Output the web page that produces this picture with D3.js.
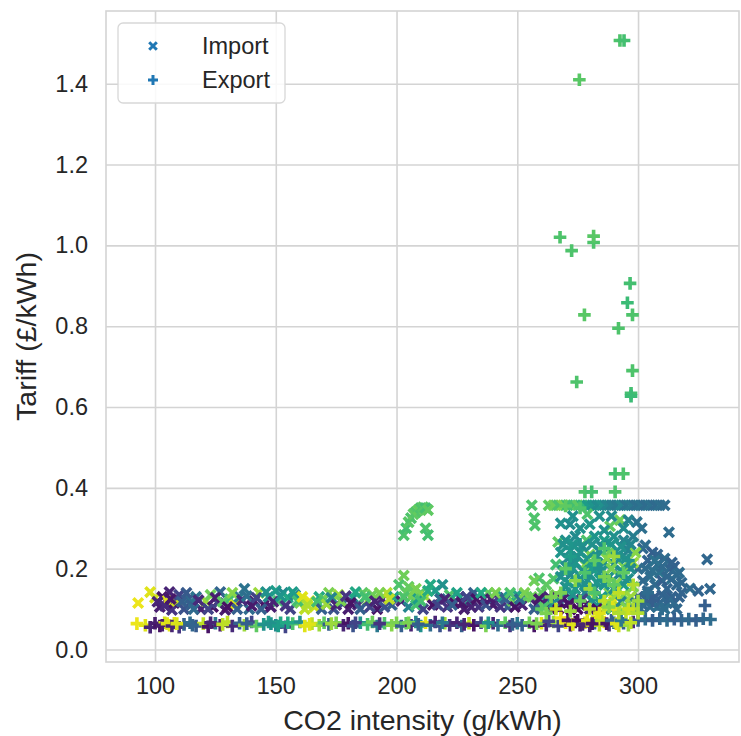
<!DOCTYPE html>
<html>
<head>
<meta charset="utf-8">
<script src="https://cdnjs.cloudflare.com/ajax/libs/d3/7.8.5/d3.min.js"></script>
<style>
  body { margin: 0; background: #fff; }
  text { font-family: "Liberation Sans", Arial, sans-serif; fill: #262626; }
</style>
</head>
<body>
<svg id="chart-area" width="741" height="736"></svg>
<script>
// series names + tick labels
var seriesNames = ['Import', 'Export'];
var xTicks = [100, 150, 200, 250, 300];
var yTicks = [0.0, 0.2, 0.4, 0.6, 0.8, 1.0, 1.2, 1.4];

// [CO2 intensity, tariff, colour value 0..1]
var importPts = [
  [93,0.115,0.97],[98,0.142,0.95],[100,0.128,0.93],[102,0.105,0.08],[103,0.13,0.05],[105,0.12,0.95],[106,0.142,0.1],
  [107,0.098,0.15],[108,0.115,0.04],[109,0.12,0.92],[110,0.135,0.2],[112,0.1,0.25],[114,0.125,0.35],[115,0.11,0.3],
  [117,0.13,0.38],[119,0.1,0.1],[121,0.12,0.85],[123,0.135,0.78],[124,0.105,0.05],[126,0.115,0.2],[127,0.142,0.32],
  [129,0.098,0.08],[131,0.125,0.7],[133,0.11,0.95],[135,0.13,0.4],[137,0.15,0.38],[139,0.1,0.35],[141,0.12,0.1],
  [143,0.14,0.85],[145,0.11,0.05],[147,0.13,0.5],[148,0.105,0.08],[150,0.145,0.55],[151,0.12,0.7],[153,0.14,0.48],
  [155,0.128,0.6],[156,0.1,0.2],[158,0.135,0.45],[160,0.115,0.78],[162,0.1,0.9],[164,0.12,0.96],[166,0.105,0.92],
  [168,0.13,0.6],[170,0.125,0.72],[172,0.14,0.8],[174,0.1,0.25],[176,0.135,0.85],[178,0.115,0.3],[180,0.1,0.08],
  [182,0.128,0.5],[184,0.11,0.15],[186,0.14,0.75],[188,0.12,0.82],[190,0.135,0.78],[192,0.1,0.05],[194,0.125,0.1],
  [196,0.14,0.88],[198,0.11,0.3],[199,0.13,0.6],
  // second pass over the low band
  [101,0.118,0.1],[104,0.108,0.12],[106.5,0.125,0.06],[111,0.118,0.3],[113,0.14,0.28],[116,0.1,0.34],[118,0.122,0.12],
  [122,0.1,0.2],[125,0.128,0.08],[128,0.118,0.75],[130,0.105,0.04],[132,0.14,0.82],[134,0.1,0.3],[136,0.122,0.12],
  [138,0.132,0.36],[140,0.108,0.07],[142,0.128,0.2],[144,0.1,0.3],[146,0.142,0.5],[149,0.118,0.1],[152,0.132,0.52],
  [154,0.108,0.15],[157,0.142,0.55],[159,0.12,0.7],[161,0.13,0.95],[163,0.11,0.88],[167,0.118,0.7],[169,0.1,0.3],
  [171,0.112,0.85],[173,0.128,0.45],[175,0.11,0.1],[177,0.12,0.8],[179,0.132,0.15],[181,0.115,0.05],[183,0.142,0.6],
  [185,0.1,0.3],[187,0.13,0.7],[189,0.105,0.2],[191,0.12,0.1],[193,0.14,0.8],[195,0.105,0.25],[197,0.125,0.9],
  [201,0.16,0.72],[202,0.12,0.1],[203,0.183,0.78],[204,0.14,0.75],[205,0.105,0.45],[206,0.13,0.78],[207,0.145,0.8],
  [208,0.11,0.7],[209,0.125,0.55],[210,0.14,0.75],[211,0.1,0.2],[212,0.13,0.85],[214,0.16,0.6],[215,0.11,0.05],
  [216,0.145,0.55],[218,0.125,0.35],[219,0.16,0.5],[221,0.105,0.15],[222,0.135,0.72],[224,0.115,0.05],[226,0.13,0.12],
  [228,0.1,0.08],[230,0.12,0.55],[232,0.14,0.3],[234,0.105,0.15],[236,0.125,0.1],[238,0.14,0.75],[240,0.11,0.08],
  [242,0.128,0.2],[244,0.13,0.55],[246,0.105,0.3],[248,0.12,0.78],[250,0.135,0.6],[252,0.11,0.1],[254,0.13,0.75],
  [203,0.13,0.72],[205,0.155,0.76],[208,0.15,0.8],[210,0.12,0.7],[213,0.145,0.62],[217,0.11,0.2],[220,0.125,0.1],
  [223,0.11,0.3],[225,0.14,0.58],[227,0.115,0.06],[229,0.13,0.2],[231,0.105,0.1],[233,0.125,0.05],[235,0.14,0.6],
  [237,0.11,0.25],[239,0.125,0.08],[241,0.14,0.8],[243,0.105,0.15],[245,0.125,0.3],[247,0.14,0.72],[249,0.105,0.05],
  [251,0.125,0.35],[253,0.14,0.8],
  // arc near 210
  [203,0.283,0.72],[204,0.3,0.7],[205,0.315,0.74],[206,0.325,0.72],[207,0.335,0.75],[208,0.34,0.73],[209,0.345,0.76],
  [210,0.35,0.72],[211,0.352,0.74],[212,0.35,0.7],[213,0.345,0.75],[212,0.3,0.72],[213,0.283,0.7],
  // flat cap line
  [256,0.357,0.72],[257,0.325,0.72],[263,0.357,0.75],[265,0.357,0.78],[267,0.357,0.72],[269,0.357,0.8],[271,0.357,0.68],
  [273,0.357,0.7],[275,0.357,0.75],[277,0.357,0.66],[279,0.357,0.55],[281,0.357,0.52],[283,0.357,0.48],[285,0.357,0.5],
  [287,0.357,0.45],[289,0.357,0.42],[291,0.357,0.4],[293,0.357,0.45],[295,0.357,0.38],[297,0.357,0.4],[299,0.357,0.36],
  [301,0.357,0.38],[303,0.357,0.35],[305,0.357,0.37],[307,0.357,0.34],[309,0.357,0.36],[311,0.357,0.35],
  // lower band right side
  [256,0.13,0.78],[258,0.11,0.1],[260,0.14,0.75],[262,0.12,0.5],[264,0.1,0.05],[266,0.135,0.8],[268,0.115,0.3],
  [270,0.14,0.55],[272,0.1,0.0],[274,0.125,0.05],[276,0.11,0.08],[278,0.14,0.45],[280,0.1,0.12],[282,0.13,0.85],
  [284,0.115,0.5],[286,0.1,0.9],[288,0.14,0.8],[290,0.12,0.95],[292,0.105,0.88],[294,0.135,0.82],[296,0.115,0.78],
  [298,0.1,0.35],[300,0.13,0.3],[302,0.11,0.33],[304,0.14,0.36],[306,0.12,0.3],[308,0.105,0.4],[310,0.135,0.32],
  [312,0.115,0.35],[314,0.13,0.3],[316,0.1,0.33],[321.5,0.151,0.35],[325,0.145,0.32],[329.8,0.15,0.33],
  [328.6,0.223,0.33],[312.8,0.29,0.35],
  [257,0.1,0.3],[259,0.125,0.06],[261,0.105,0.72],[263,0.13,0.1],[265,0.115,0.48],[267,0.1,0.02],[269,0.125,0.1],
  [271,0.115,0.05],[273,0.135,0.5],[275,0.1,0.03],[277,0.125,0.2],[279,0.112,0.05],[281,0.12,0.5],[283,0.1,0.04],
  [285,0.13,0.55],[287,0.115,0.82],[289,0.1,0.5],[291,0.135,0.85],[293,0.118,0.45],[295,0.105,0.8],[297,0.13,0.85],
  [299,0.115,0.38],[301,0.1,0.35],[303,0.125,0.32],[305,0.105,0.35],[307,0.13,0.3],[309,0.115,0.33],[311,0.1,0.36],
  [313,0.125,0.32],[315,0.115,0.34],[317,0.13,0.31],
  // blue block
  [300,0.2,0.35],[302,0.25,0.33],[303,0.258,0.35],[304,0.22,0.32],[305,0.18,0.36],[306,0.24,0.3],[307,0.16,0.34],
  [308,0.21,0.33],[309,0.19,0.38],[310,0.17,0.3],[311,0.225,0.35],[312,0.15,0.32],[313,0.2,0.34],[314,0.175,0.36],
  [315,0.205,0.3],[316,0.16,0.33],[317,0.19,0.35],[318,0.14,0.32],[301.5,0.3,0.36],[299.5,0.315,0.38],
  [302,0.17,0.34],[304,0.145,0.33],[306,0.195,0.36],[308,0.235,0.32],[310,0.205,0.34],[312,0.18,0.33],[314,0.215,0.31],
  [316,0.185,0.34],[318,0.165,0.33],[303,0.2,0.35],[307,0.22,0.37],
  // teal block
  [268,0.312,0.5],[271.8,0.31,0.48],[278.7,0.27,0.72],[284,0.33,0.5],[288.4,0.305,0.75],[292.5,0.32,0.78],
  [257.3,0.307,0.72],[266.9,0.266,0.75],
  [270,0.27,0.5],[274,0.28,0.48],[282,0.28,0.52],[286,0.27,0.55],[290,0.28,0.5],[294,0.27,0.45],[298,0.28,0.42],
  [268,0.24,0.52],[272,0.245,0.5],[276,0.24,0.55],[280,0.235,0.8],[284,0.245,0.5],[288,0.24,0.78],[292,0.235,0.5],
  [296,0.245,0.45],[299,0.24,0.82],
  [266,0.21,0.7],[270,0.205,0.5],[274,0.215,0.52],[278,0.21,0.8],[282,0.205,0.55],[286,0.215,0.5],[290,0.21,0.48],
  [294,0.205,0.8],[298,0.215,0.85],
  [265,0.175,0.72],[268,0.18,0.5],[272,0.185,0.48],[276,0.175,0.52],[280,0.185,0.5],[284,0.175,0.55],[288,0.18,0.5],
  [292,0.185,0.45],[296,0.175,0.5],
  [262,0.16,0.75],[270,0.155,0.5],[274,0.15,0.55],[278,0.16,0.5],[282,0.15,0.45],[286,0.16,0.52],[290,0.15,0.5],
  [294,0.16,0.55],[298,0.155,0.8],[259,0.176,0.72],[257,0.17,0.78],
  [269,0.26,0.5],[273,0.26,0.52],[277,0.255,0.48],[281,0.26,0.5],[285,0.255,0.47],[289,0.26,0.52],[293,0.255,0.5],
  [297,0.26,0.46],[271,0.225,0.48],[275,0.23,0.5],[279,0.225,0.52],[283,0.23,0.5],[287,0.225,0.82],[291,0.23,0.5],
  [295,0.225,0.5],[269,0.195,0.5],[273,0.2,0.52],[277,0.195,0.5],[281,0.2,0.55],[285,0.195,0.5],[289,0.2,0.8],
  [293,0.195,0.5],[297,0.2,0.48],[271,0.165,0.52],[275,0.165,0.5],[279,0.17,0.5],[283,0.165,0.52],[287,0.17,0.5],
  [291,0.165,0.82],[295,0.17,0.5],[276,0.3,0.5],[280,0.31,0.52],[286,0.295,0.5],[294,0.3,0.48],[273,0.33,0.5],
  [289,0.33,0.48],[279,0.335,0.72],[296,0.32,0.45]
];

var exportPts = [
  // low band
  [92.5,0.064,0.97],[96,0.06,0.95],[98,0.055,0.1],[100,0.065,0.08],[102,0.058,0.05],[104,0.066,0.93],[106,0.06,0.96],
  [108,0.065,0.95],[110,0.055,0.15],[112,0.062,0.3],[114.5,0.066,0.35],[117,0.058,0.28],[120,0.064,0.9],[122,0.056,0.05],
  [125,0.065,0.4],[127,0.06,0.08],[130,0.068,0.9],[132,0.058,0.12],[135,0.065,0.3],[137,0.06,0.85],[140,0.068,0.2],
  [142,0.058,0.75],[145,0.062,0.5],[147,0.068,0.55],[150,0.06,0.48],[152,0.066,0.6],[154,0.056,0.2],[157,0.064,0.72],
  [160,0.068,0.5],[162,0.058,0.95],[165,0.064,0.9],[168,0.06,0.85],[170,0.066,0.75],[172,0.062,0.3],[175,0.066,0.8],
  [178,0.06,0.1],[180,0.065,0.05],[182,0.058,0.25],[185,0.066,0.5],[188,0.062,0.7],[190,0.068,0.78],[192,0.058,0.4],
  [195,0.065,0.72],[198,0.06,0.82],[200,0.066,0.8],[202,0.058,0.3],[204,0.065,0.75],[206,0.06,0.1],[208,0.068,0.45],
  [210,0.058,0.5],[212,0.066,0.95],[214,0.06,0.35],[216,0.068,0.1],[218,0.058,0.25],[220,0.065,0.85],[222,0.06,0.15],
  [225,0.066,0.1],[227,0.058,0.3],[230,0.065,0.9],[232,0.06,0.05],[235,0.066,0.2],[237,0.058,0.8],[240,0.065,0.1],
  [242,0.06,0.35],[245,0.066,0.75],[247,0.058,0.15],[250,0.065,0.4],[252,0.06,0.3],[255,0.066,0.78],[257,0.058,0.05],
  [260,0.065,0.95],[262,0.06,0.1],[265,0.068,0.85],[267,0.058,0.2],[270,0.066,0.97],[272,0.06,0.05],[274,0.068,0.02],
  [276,0.06,0.08],[278,0.066,0.95],[280,0.058,0.1],[282,0.065,0.3],[284,0.06,0.9],[286,0.068,0.98],[288,0.06,0.15],
  [290,0.066,0.35],[292,0.058,0.92],[294,0.065,0.3],[296,0.06,0.85],[298,0.068,0.12],[300,0.072,0.3],[303,0.075,0.35],
  [306,0.072,0.3],[309,0.076,0.33],[312,0.072,0.35],[315,0.075,0.3],[318,0.072,0.32],[321,0.075,0.34],[324,0.072,0.3],
  [327,0.076,0.33],[330,0.074,0.35],
  [283,0.08,0.95],[268,0.078,0.97],[295,0.09,0.9],[298,0.1,0.88],
  [103,0.06,0.08],[105,0.064,0.95],[107,0.058,0.1],[109,0.064,0.94],[115.5,0.06,0.32],[123,0.066,0.1],[128,0.062,0.9],
  [138,0.064,0.3],[148,0.064,0.5],[151,0.058,0.55],[155,0.066,0.6],[164,0.062,0.95],[173,0.064,0.85],[183,0.066,0.2],
  [193,0.064,0.15],[205,0.066,0.8],[209,0.062,0.3],[219,0.066,0.4],[228,0.062,0.1],[238,0.066,0.5],[248,0.062,0.3],
  [258,0.064,0.8],[263,0.07,0.2],[271,0.072,0.05],[273,0.062,0.95],[275,0.072,0.03],[277,0.062,0.1],[279,0.072,0.95],
  [281,0.064,0.05],[285,0.072,0.9],[287,0.064,0.05],[289,0.072,0.3],[291,0.064,0.95],[293,0.072,0.4],[297,0.066,0.9],
  // mid cluster
  [268,0.14,0.8],[270,0.2,0.75],[272,0.23,0.55],[274,0.17,0.82],[276,0.26,0.5],[278,0.19,0.72],[280,0.15,0.85],
  [282,0.22,0.75],[284,0.2,0.5],[286,0.25,0.72],[288,0.17,0.78],[290,0.23,0.85],[292,0.14,0.9],[294,0.19,0.75],
  [296,0.22,0.5],[298,0.16,0.88],[300,0.12,0.85],[286,0.12,0.9],[290,0.1,0.95],[276,0.12,0.78],[264,0.13,0.8],
  [260,0.1,0.75],[296,0.1,0.92],[300,0.09,0.88],[304,0.14,0.35],[306,0.12,0.3],[310,0.1,0.35],[327.7,0.109,0.3],
  [270,0.355,0.75],[276,0.35,0.72],[262,0.09,0.8],[266,0.1,0.92],[272,0.095,0.85],[280,0.1,0.9],[284,0.09,0.95],
  [288,0.105,0.82],[292,0.09,0.88],[282,0.14,0.72],[286,0.18,0.8],[290,0.16,0.75],
  // high outliers
  [278,0.39,0.72],[280.8,0.39,0.7],[290.5,0.39,0.72],[290.5,0.435,0.7],[293.9,0.435,0.72],
  [297.1,0.634,0.7],[297.1,0.627,0.68],[274.6,0.662,0.72],[297.7,0.69,0.72],[291.9,0.795,0.72],
  [277.8,0.828,0.74],[297.7,0.828,0.72],[295.6,0.858,0.68],[296.7,0.906,0.7],[272.5,0.987,0.72],
  [281.6,1.007,0.72],[281.6,1.023,0.74],[267.7,1.02,0.72],[275.7,1.41,0.74],[292.5,1.507,0.72],[294.2,1.507,0.7]
];

var svgWidth = 741, svgHeight = 736;
var margin = {left: 106, right: 2, top: 11, bottom: 74};
var width = svgWidth - margin.left - margin.right;
var height = svgHeight - margin.top - margin.bottom;

var svg = d3.select('#chart-area');
var g = svg.append('g')
           .attr('transform', 'translate(' + margin.left + ',' + margin.top + ')');

var x = d3.scaleLinear().domain([79.7, 341.8]).range([0, width]);
var y = d3.scaleLinear().domain([-0.031, 1.58]).range([height, 0]);

// grid via axes
var xAxis = d3.axisBottom(x).tickValues(xTicks).tickSize(-height).tickPadding(15);
var xg = g.append('g')
          .attr('transform', 'translate(0,' + height + ')')
          .call(xAxis);

var yAxis = d3.axisLeft(y).tickValues(yTicks).tickSize(-width).tickPadding(18)
              .tickFormat(d3.format('.1f'));
var yg = g.append('g').call(yAxis);

[xg, yg].forEach(function(a){
    a.select('.domain').remove();
    a.selectAll('line').attr('stroke', '#d4d4d4').attr('stroke-width', 1.6);
    a.selectAll('text').style('font-size', '23.5px').attr('fill', '#262626');
});

g.append('rect')
 .attr('width', width).attr('height', height)
 .attr('fill', 'none').attr('stroke', '#d4d4d4').attr('stroke-width', 1.6);

// markers
function xPath(s){
    return 'M' + (-s) + ',' + (-s) + 'L' + s + ',' + s + 'M' + (-s) + ',' + s + 'L' + s + ',' + (-s);
}
function plusPath(s){
    return 'M' + (-s) + ',0L' + s + ',0M0,' + (-s) + 'L0,' + s;
}

g.append('g').selectAll('path').data(importPts).enter()
 .append('path')
 .attr('d', xPath(4.8))
 .attr('transform', function(d){ return 'translate(' + x(d[0]) + ',' + y(d[1]) + ')'; })
 .attr('stroke', function(d){ return d3.interpolateViridis(d[2]); })
 .attr('stroke-width', 3.6)
 .attr('fill', 'none');

g.append('g').selectAll('path').data(exportPts).enter()
 .append('path')
 .attr('d', plusPath(6.3))
 .attr('transform', function(d){ return 'translate(' + x(d[0]) + ',' + y(d[1]) + ')'; })
 .attr('stroke', function(d){ return d3.interpolateViridis(d[2]); })
 .attr('stroke-width', 3.6)
 .attr('fill', 'none');

// axis labels
svg.append('text')
   .attr('x', margin.left + width / 2).attr('y', 730)
   .attr('text-anchor', 'middle')
   .style('font-size', '28.5px')
   .text('CO2 intensity (g/kWh)');

svg.append('text')
   .attr('transform', 'translate(36,' + (margin.top + height / 2) + ') rotate(-90)')
   .attr('text-anchor', 'middle')
   .style('font-size', '28.5px')
   .text('Tariff (£/kWh)');

// legend
var legend = svg.append('g');
legend.append('rect')
      .attr('x', 118).attr('y', 23).attr('width', 167).attr('height', 80)
      .attr('rx', 5)
      .attr('fill', 'white').attr('fill-opacity', 0.85)
      .attr('stroke', '#d8d8d8').attr('stroke-width', 1.3);

var items = legend.selectAll('.item').data(seriesNames).enter()
                  .append('g')
                  .attr('transform', function(d, i){ return 'translate(153,' + (46 + i * 34) + ')'; });
items.append('path')
     .attr('d', function(d, i){ return i === 0 ? xPath(3.8) : plusPath(5); })
     .attr('stroke', '#1f77b4').attr('stroke-width', 3).attr('fill', 'none');
items.append('text')
     .attr('x', 49).attr('y', 8)
     .style('font-size', '23.5px')
     .text(function(d){ return d; });
</script>
</body>
</html>
